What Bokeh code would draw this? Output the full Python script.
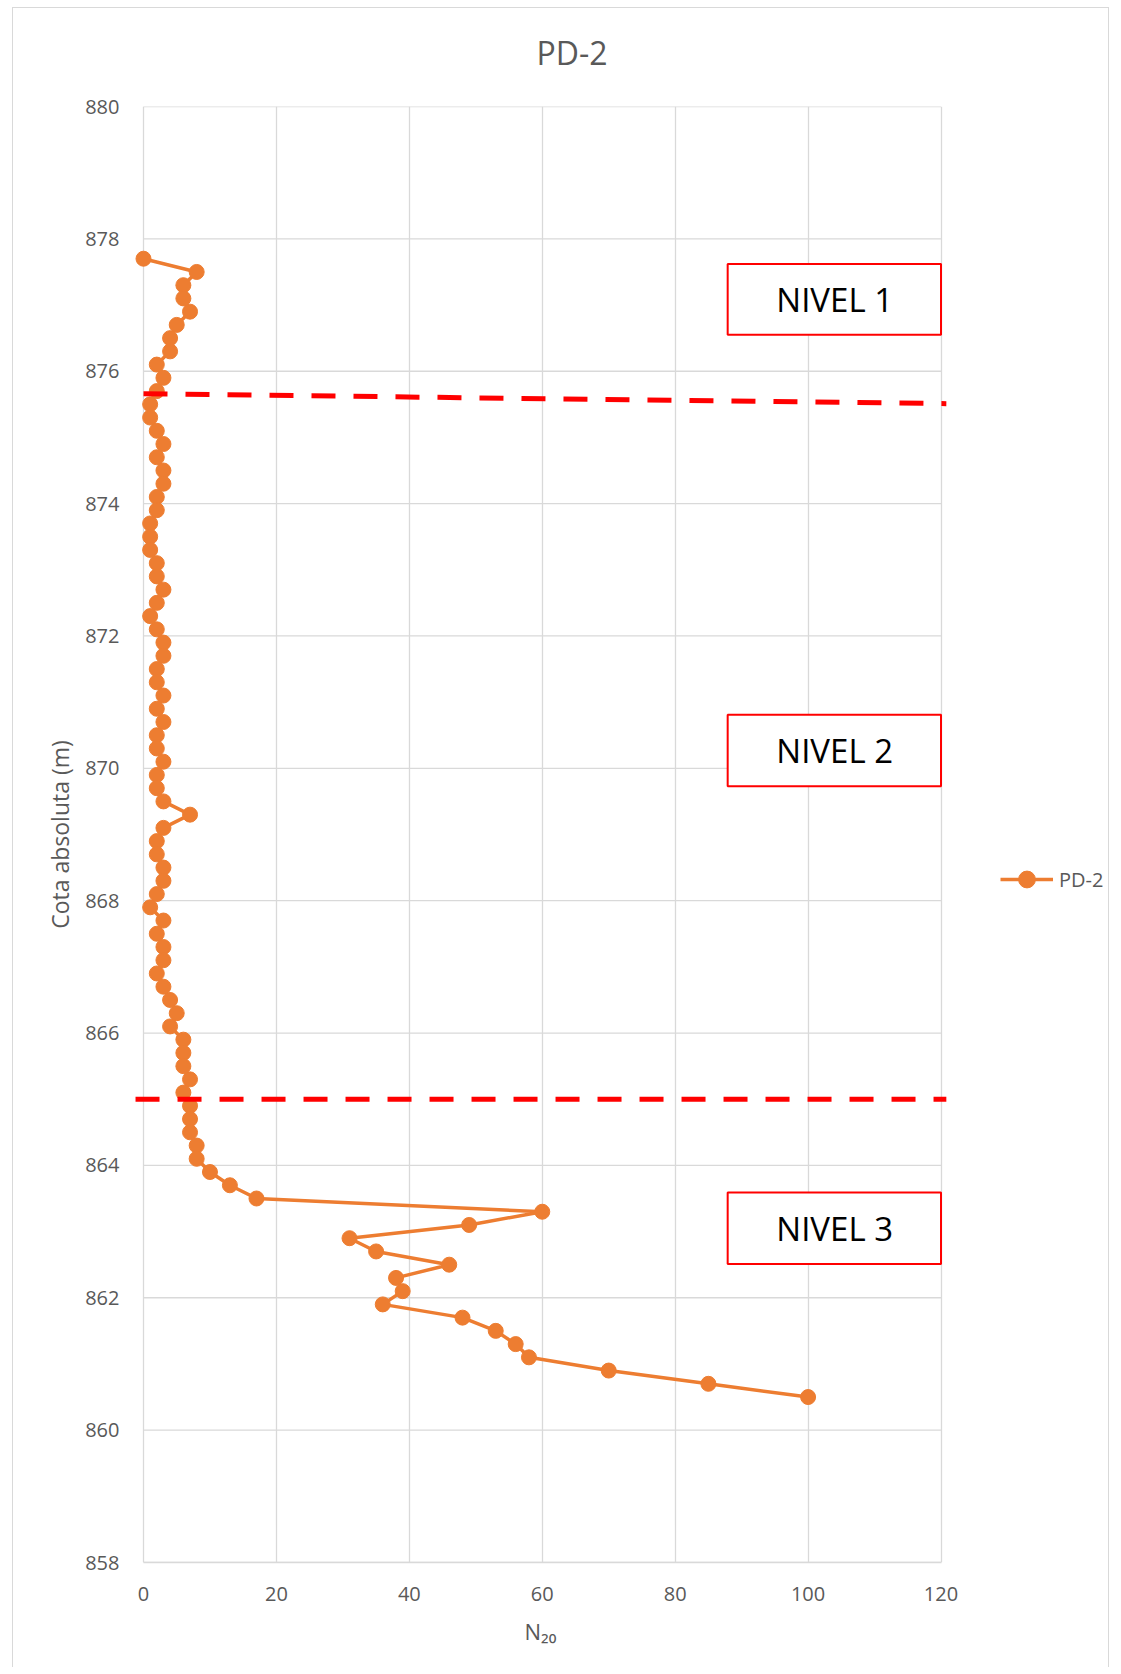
from bokeh.plotting import figure
from bokeh.models import (Range1d, FixedTicker, Label, BoxAnnotation, Legend, LegendItem, Title)
from bokeh.embed import file_html
from bokeh.resources import INLINE

# ---- data ----
cota = [877.7, 877.5, 877.3, 877.1, 876.9, 876.7, 876.5, 876.3, 876.1, 875.9,
        875.7, 875.5, 875.3, 875.1, 874.9, 874.7, 874.5, 874.3, 874.1, 873.9,
        873.7, 873.5, 873.3, 873.1, 872.9, 872.7, 872.5, 872.3, 872.1, 871.9,
        871.7, 871.5, 871.3, 871.1, 870.9, 870.7, 870.5, 870.3, 870.1, 869.9,
        869.7, 869.5, 869.3, 869.1, 868.9, 868.7, 868.5, 868.3, 868.1, 867.9,
        867.7, 867.5, 867.3, 867.1, 866.9, 866.7, 866.5, 866.3, 866.1, 865.9,
        865.7, 865.5, 865.3, 865.1, 864.9, 864.7, 864.5, 864.3, 864.1, 863.9,
        863.7, 863.5, 863.3, 863.1, 862.9, 862.7, 862.5, 862.3, 862.1, 861.9,
        861.7, 861.5, 861.3, 861.1, 860.9, 860.7, 860.5]
n20 = [0, 8, 6, 6, 7, 5, 4, 4, 2, 3,
       2, 1, 1, 2, 3, 2, 3, 3, 2, 2,
       1, 1, 1, 2, 2, 3, 2, 1, 2, 3,
       3, 2, 2, 3, 2, 3, 2, 2, 3, 2,
       2, 3, 7, 3, 2, 2, 3, 3, 2, 1,
       3, 2, 3, 3, 2, 3, 4, 5, 4, 6,
       6, 6, 7, 6, 7, 7, 7, 8, 8, 10,
       13, 17, 60, 49, 31, 35, 46, 38, 39, 36,
       48, 53, 56, 58, 70, 85, 100]

x_ticks = [0, 20, 40, 60, 80, 100, 120]
y_ticks = [858, 860, 862, 864, 866, 868, 870, 872, 874, 876, 878, 880]

nivel_labels = ["NIVEL 1", "NIVEL 2", "NIVEL 3"]
nivel_box_top = [877.62, 870.81, 863.59]
nivel_box_bottom = [876.55, 869.73, 862.51]
limit1_x = [0, 120.8]
limit1_y = [875.66, 875.51]
limit2_x = [-1.2, 120.8]
limit2_y = [865.0, 865.0]

FONT = "Open Sans"
GRAY = "#595959"
GRID = "#D9D9D9"
ORANGE = "#ED7D31"

X_MIN, X_MAX = x_ticks[0], x_ticks[-1]
Y_MIN, Y_MAX = y_ticks[0], y_ticks[-1]

# frame is widened (a little to the left so markers at 0 are not cut,
# and to the right so the legend can sit beside the plot area)
p = figure(width=1097, height=1660, output_backend="svg", toolbar_location=None,
           x_range=Range1d(-1.354, 144.75), y_range=Range1d(Y_MIN, Y_MAX),
           min_border_left=121, min_border_right=5, min_border_top=98, min_border_bottom=106)
p.margin = (7, 0, 0, 12)
p.styles = {"border-top": "1px solid #D9D9D9", "border-left": "1px solid #D9D9D9",
            "border-right": "1px solid #D9D9D9"}
p.outline_line_color = None
p.background_fill_color = "white"
p.border_fill_color = "white"

# spacer between plot area and title, then the title itself
p.add_layout(Title(text=" ", text_font_size="1px", standoff=30), "above")
p.add_layout(Title(text="PD-2", align="left", offset=402, standoff=0,
                   text_font=FONT, text_font_size="32px", text_color=GRAY,
                   text_font_style="normal"), "above")

for ax in (p.xaxis[0], p.yaxis[0]):
    ax.axis_line_color = GRID
    ax.axis_line_width = 1.3
    ax.major_tick_line_color = None
    ax.minor_tick_line_color = None
    ax.major_label_text_font = FONT
    ax.major_label_text_font_size = "20px"
    ax.major_label_text_color = GRAY
    ax.axis_label_text_font = FONT
    ax.axis_label_text_color = GRAY
    ax.axis_label_text_font_style = "normal"
p.xaxis[0].ticker = FixedTicker(ticks=x_ticks)
p.xaxis[0].bounds = (X_MIN, X_MAX)
p.yaxis[0].ticker = FixedTicker(ticks=y_ticks)
p.yaxis[0].axis_line_color = None
p.xaxis[0].major_label_standoff = 18
p.yaxis[0].major_label_standoff = 9
p.yaxis[0].axis_label = "Cota absoluta (m)"
p.yaxis[0].axis_label_text_font_size = "23px"
p.yaxis[0].axis_label_standoff = 6

# x axis title N20 (placed under the axis, aligned to the plot area)
p.add_layout(Title(text="N\u2082\u2080", align="left", offset=390, standoff=21,
                   text_font=FONT, text_font_size="22px", text_color=GRAY,
                   text_font_style="normal"), "below")

# grid: vertical lines via grid, horizontal lines limited to the plot area
p.xgrid[0].ticker = FixedTicker(ticks=x_ticks)
p.xgrid[0].grid_line_color = GRID
p.xgrid[0].grid_line_width = 1.3
p.ygrid[0].visible = False
p.segment(x0=[X_MIN] * len(y_ticks), x1=[X_MAX] * len(y_ticks), y0=y_ticks, y1=y_ticks,
          line_color=GRID, line_width=1.3)

# series
lr = p.line(n20, cota, line_color=ORANGE, line_width=3.5)
sr = p.scatter(n20, cota, size=15, fill_color=ORANGE, line_color=ORANGE)

# level limits
p.line(limit1_x, limit1_y, line_color="#FF0000", line_width=5, line_dash="24 18")
p.line(limit2_x, limit2_y, line_color="#FF0000", line_width=5, line_dash="24 18")

# level boxes
for lab, top, bot in zip(nivel_labels, nivel_box_top, nivel_box_bottom):
    p.add_layout(BoxAnnotation(left=87.9, right=120, top=top, bottom=bot,
                               fill_color="white", fill_alpha=1.0,
                               line_color="#FF0000", line_alpha=1.0, line_width=2))
    p.add_layout(Label(x=104, y=(top + bot) / 2, text=lab, text_align="center",
                       text_baseline="middle", text_font=FONT, text_font_size="33px",
                       text_color="black"))

legend = Legend(items=[LegendItem(label="PD-2", renderers=[lr, sr])],
                location=(866, 662), margin=0, padding=0, spacing=0,
                glyph_width=53, glyph_height=42, label_standoff=6,
                label_text_font=FONT, label_text_font_size="20px", label_text_color=GRAY,
                label_height=42,
                border_line_color=None, background_fill_alpha=0)
p.add_layout(legend, "center")

open("out.html", "w").write(file_html(p, INLINE))
